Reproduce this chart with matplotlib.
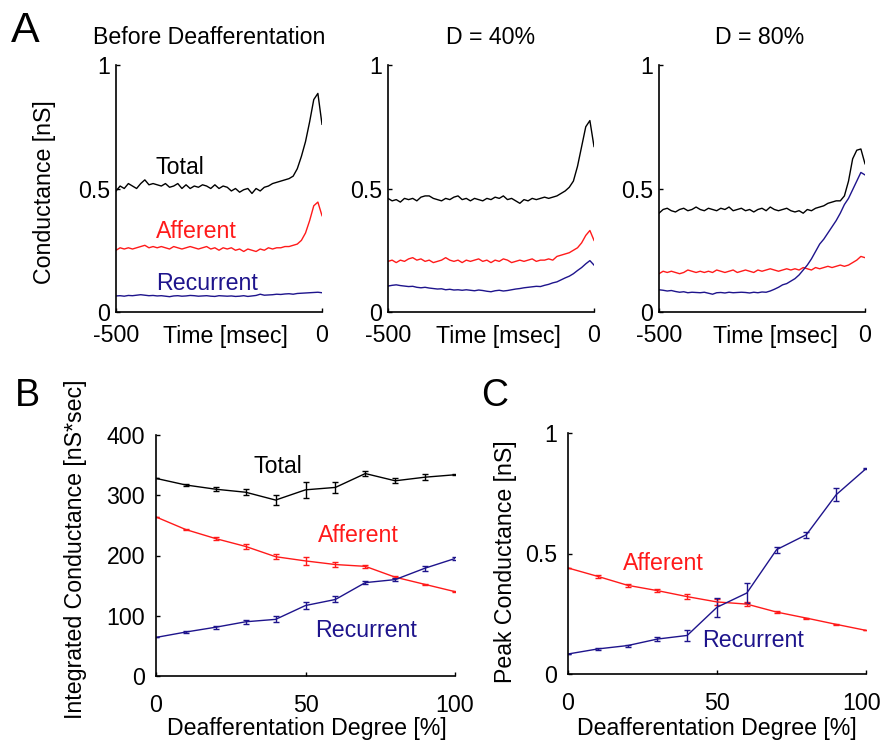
import numpy as np
import matplotlib
matplotlib.use("Agg")
import matplotlib.pyplot as plt
from matplotlib.transforms import ScaledTranslation

plt.rcParams["font.family"] = ["Liberation Sans", "DejaVu Sans"]

# -----------------------------
# Colors
# -----------------------------
BLACK = "#000000"
RED = "#ff1a1a"
BLUE = "#1e148c"

# -----------------------------
# Panel A: conductance traces (sampled every 10 ms, -500 .. 0)
# -----------------------------
time_ms = np.arange(-500, 1, 10)

before_total = [
    0.49, 0.51, 0.50, 0.52, 0.51, 0.50, 0.52, 0.535, 0.515, 0.52,
    0.515, 0.51, 0.52, 0.505, 0.51, 0.52, 0.50, 0.515, 0.50, 0.51,
    0.505, 0.515, 0.51, 0.50, 0.515, 0.50, 0.51, 0.505, 0.49, 0.50,
    0.485, 0.495, 0.50, 0.48, 0.50, 0.49, 0.505, 0.51, 0.52, 0.525,
    0.53, 0.535, 0.54, 0.55, 0.58, 0.63, 0.69, 0.77, 0.86, 0.885, 0.76,
]
before_afferent = [
    0.25, 0.26, 0.255, 0.26, 0.255, 0.26, 0.265, 0.27, 0.26, 0.265,
    0.26, 0.265, 0.26, 0.255, 0.265, 0.26, 0.255, 0.26, 0.265, 0.26,
    0.255, 0.26, 0.265, 0.255, 0.26, 0.25, 0.26, 0.255, 0.26, 0.25,
    0.255, 0.245, 0.255, 0.25, 0.245, 0.255, 0.25, 0.26, 0.255, 0.26,
    0.26, 0.265, 0.265, 0.27, 0.275, 0.29, 0.32, 0.37, 0.43, 0.445, 0.39,
]
before_recurrent = [
    0.065, 0.066, 0.064, 0.067, 0.066, 0.068, 0.07, 0.068, 0.066, 0.067,
    0.065, 0.066, 0.064, 0.062, 0.065, 0.066, 0.064, 0.065, 0.067, 0.066,
    0.064, 0.065, 0.066, 0.064, 0.063, 0.066, 0.065, 0.064, 0.065, 0.063,
    0.064, 0.066, 0.063, 0.065, 0.067, 0.072, 0.068, 0.069, 0.07, 0.072,
    0.071, 0.073, 0.074, 0.072, 0.075, 0.076, 0.077, 0.078, 0.079, 0.08, 0.078,
]

d40_total = [
    0.46, 0.45, 0.455, 0.445, 0.46, 0.455, 0.46, 0.45, 0.465, 0.47,
    0.47, 0.46, 0.455, 0.45, 0.46, 0.455, 0.465, 0.47, 0.455, 0.46,
    0.45, 0.46, 0.455, 0.45, 0.46, 0.455, 0.465, 0.46, 0.47, 0.455,
    0.46, 0.45, 0.44, 0.455, 0.45, 0.46, 0.455, 0.46, 0.465, 0.46,
    0.465, 0.47, 0.48, 0.49, 0.505, 0.53, 0.59, 0.67, 0.75, 0.775, 0.67,
]
d40_afferent = [
    0.205, 0.21, 0.20, 0.21, 0.205, 0.215, 0.22, 0.21, 0.215, 0.205,
    0.21, 0.20, 0.205, 0.21, 0.22, 0.21, 0.205, 0.21, 0.20, 0.21,
    0.205, 0.21, 0.215, 0.205, 0.21, 0.20, 0.21, 0.205, 0.215, 0.21,
    0.20, 0.205, 0.21, 0.205, 0.21, 0.215, 0.205, 0.21, 0.21, 0.215,
    0.21, 0.225, 0.23, 0.235, 0.24, 0.25, 0.26, 0.28, 0.31, 0.33, 0.29,
]
d40_recurrent = [
    0.105, 0.108, 0.11, 0.107, 0.105, 0.103, 0.104, 0.10, 0.098, 0.10,
    0.097, 0.095, 0.093, 0.094, 0.09, 0.092, 0.089, 0.09, 0.088, 0.09,
    0.088, 0.086, 0.089, 0.087, 0.084, 0.082, 0.086, 0.088, 0.085, 0.087,
    0.09, 0.093, 0.095, 0.098, 0.10, 0.102, 0.104, 0.103, 0.108, 0.112,
    0.118, 0.122, 0.13, 0.138, 0.145, 0.155, 0.168, 0.18, 0.195, 0.208, 0.19,
]

d80_total = [
    0.40, 0.415, 0.42, 0.41, 0.405, 0.415, 0.42, 0.41, 0.415, 0.425,
    0.415, 0.41, 0.42, 0.415, 0.41, 0.42, 0.415, 0.425, 0.41, 0.415,
    0.42, 0.41, 0.415, 0.405, 0.415, 0.42, 0.41, 0.425, 0.415, 0.41,
    0.415, 0.42, 0.41, 0.405, 0.41, 0.40, 0.415, 0.41, 0.42, 0.425,
    0.43, 0.44, 0.445, 0.45, 0.45, 0.47, 0.53, 0.62, 0.655, 0.66, 0.60,
]
d80_afferent = [
    0.155, 0.165, 0.16, 0.165, 0.16, 0.155, 0.16, 0.17, 0.165, 0.16,
    0.165, 0.16, 0.165, 0.16, 0.17, 0.165, 0.16, 0.165, 0.17, 0.16,
    0.165, 0.17, 0.165, 0.16, 0.17, 0.165, 0.17, 0.175, 0.17, 0.165,
    0.17, 0.175, 0.17, 0.175, 0.17, 0.18, 0.175, 0.17, 0.18, 0.175,
    0.18, 0.185, 0.18, 0.185, 0.19, 0.185, 0.19, 0.20, 0.21, 0.225, 0.22,
]
d80_recurrent = [
    0.09, 0.088, 0.085, 0.087, 0.083, 0.08, 0.082, 0.078, 0.08, 0.079,
    0.078, 0.08, 0.076, 0.072, 0.078, 0.079, 0.077, 0.08, 0.078, 0.079,
    0.08, 0.079, 0.077, 0.08, 0.078, 0.081, 0.08, 0.085, 0.092, 0.10,
    0.11, 0.115, 0.125, 0.135, 0.15, 0.17, 0.19, 0.215, 0.245, 0.275,
    0.295, 0.32, 0.345, 0.37, 0.40, 0.435, 0.46, 0.495, 0.53, 0.565, 0.555,
]

trace_titles = ["Before Deafferentation", "D = 40%", "D = 80%"]

# -----------------------------
# Panels B and C: vs deafferentation degree
# -----------------------------
degree = [0, 10, 20, 30, 40, 50, 60, 70, 80, 90, 100]

int_total = [328, 317, 310, 305, 292, 309, 313, 336, 324, 330, 334]
int_total_err = [0, 1, 3.5, 5, 9, 13, 9, 4, 4, 5.5, 0.5]
int_afferent = [264, 243, 228, 215, 198, 191, 185, 182, 164, 152, 140]
int_afferent_err = [0, 1, 2, 3.5, 4.5, 7, 3.5, 2, 2, 1.5, 0.5]
int_recurrent = [64, 73, 81, 90, 94, 117, 127, 155, 160, 179, 195]
int_recurrent_err = [0, 1, 2.5, 3.5, 5, 6, 5, 3, 2, 4, 2]

peak_afferent = [0.44, 0.405, 0.368, 0.346, 0.321, 0.299, 0.29, 0.257, 0.232, 0.206, 0.181]
peak_afferent_err = [0, 0.005, 0.005, 0.006, 0.009, 0.012, 0.007, 0.003, 0.002, 0.003, 0]
peak_recurrent = [0.083, 0.104, 0.118, 0.145, 0.16, 0.277, 0.336, 0.516, 0.578, 0.744, 0.852]
peak_recurrent_err = [0, 0.003, 0.004, 0.008, 0.022, 0.04, 0.04, 0.013, 0.012, 0.027, 0.003]

FS = 16.7


def style_axes(ax, ypad):
    ax.spines["top"].set_visible(False)
    ax.spines["right"].set_visible(False)
    ax.spines["left"].set_linewidth(1.2)
    ax.spines["bottom"].set_linewidth(1.2)
    ax.tick_params(direction="in", length=3, width=1, labelsize=FS)
    ax.tick_params(axis="y", pad=ypad)


fig = plt.figure(figsize=(8.82, 7.4), dpi=100)

# -----------------------------
# Panel A
# -----------------------------
a_lefts = [116, 388, 659]
a_traces = [
    (before_total, before_afferent, before_recurrent),
    (d40_total, d40_afferent, d40_recurrent),
    (d80_total, d80_afferent, d80_recurrent),
]
title_x = [0.454, 0.50, 0.49]
xlabel_x = [0.53, 0.534, 0.563]

for i, (left, traces) in enumerate(zip(a_lefts, a_traces)):
    ax = fig.add_axes([left / 882, (740 - 312) / 740, 206 / 882, 247 / 740])
    total, afferent, recurrent = traces
    ax.plot(time_ms, total, color=BLACK, lw=1.0)
    ax.plot(time_ms, afferent, color=RED, lw=1.0)
    ax.plot(time_ms, recurrent, color=BLUE, lw=1.0)
    ax.set_xlim(-500, 0)
    ax.set_ylim(0, 1)
    ax.set_xticks([-500, 0])
    ax.set_xticklabels(["-500", "0"])
    ax.set_yticks([0, 0.5, 1])
    ax.set_yticklabels(["0", "0.5", "1"])
    style_axes(ax, 4)
    ax.tick_params(axis="x", pad=9)
    ax.text(xlabel_x[i], -0.1255, "Time [msec]", transform=ax.transAxes,
            ha="center", va="baseline", fontsize=FS)
    ax.text(title_x[i], 1.113, trace_titles[i], transform=ax.transAxes,
            ha="center", va="center", fontsize=FS)
    if i == 0:
        ax.set_ylabel("Conductance [nS]", fontsize=FS)
        ax.yaxis.set_label_coords(-0.29, 0.486)
        ax.text(-344, 0.587, "Total", color=BLACK, ha="center", va="center", fontsize=FS)
        ax.text(-305, 0.324, "Afferent", color=RED, ha="center", va="center", fontsize=FS)
        ax.text(-280, 0.117, "Recurrent", color=BLUE, ha="center", va="center", fontsize=FS)

# -----------------------------
# Panel B
# -----------------------------
axb = fig.add_axes([156 / 882, (740 - 676) / 740, 299 / 882, 241 / 740])
err_kw = dict(lw=1.0, elinewidth=1.0, capsize=2.5, capthick=1.0)
axb.errorbar(degree, int_total, yerr=int_total_err, color=BLACK, **err_kw)
axb.errorbar(degree, int_afferent, yerr=int_afferent_err, color=RED, **err_kw)
axb.errorbar(degree, int_recurrent, yerr=int_recurrent_err, color=BLUE, **err_kw)
axb.set_xlim(0, 100)
axb.set_ylim(0, 400)
axb.set_xticks([0, 50, 100])
axb.set_yticks([0, 100, 200, 300, 400])
style_axes(axb, 8)
axb.tick_params(axis="x", pad=13)
axb.set_ylabel("Integrated Conductance [nS*sec]", fontsize=FS)
axb.yaxis.set_label_coords(-0.23, 0.527)
axb.text(0.505, -0.245, "Deafferentation Degree [%]", transform=axb.transAxes,
         ha="center", va="baseline", fontsize=FS)
axb.text(40.8, 347, "Total", color=BLACK, ha="center", va="center", fontsize=FS)
axb.text(67.6, 234, "Afferent", color=RED, ha="center", va="center", fontsize=FS)
axb.text(70.2, 76, "Recurrent", color=BLUE, ha="center", va="center", fontsize=FS)

# -----------------------------
# Panel C
# -----------------------------
axc = fig.add_axes([568 / 882, (740 - 674) / 740, 298 / 882, 241 / 740])
axc.errorbar(degree, peak_afferent, yerr=peak_afferent_err, color=RED, **err_kw)
axc.errorbar(degree, peak_recurrent, yerr=peak_recurrent_err, color=BLUE, **err_kw)
axc.set_xlim(0, 100)
axc.set_ylim(0, 1)
axc.set_xticks([0, 50, 100])
axc.set_yticks([0, 0.5, 1])
axc.set_yticklabels(["0", "0.5", "1"])
style_axes(axc, 8)
axc.tick_params(axis="x", pad=13)
# keep the right-most tick label inside the figure
last_label = axc.get_xticklabels()[-1]
last_label.set_transform(last_label.get_transform()
                         + ScaledTranslation(-4 / 100, 0, fig.dpi_scale_trans))
axc.set_ylabel("Peak Conductance [nS]", fontsize=FS)
axc.yaxis.set_label_coords(-0.17, 0.465)
axc.text(0.5, -0.253, "Deafferentation Degree [%]", transform=axc.transAxes,
         ha="center", va="baseline", fontsize=FS)
axc.text(31.9, 0.46, "Afferent", color=RED, ha="center", va="center", fontsize=FS)
axc.text(62.1, 0.137, "Recurrent", color=BLUE, ha="center", va="center", fontsize=FS)

# -----------------------------
# Panel letters
# -----------------------------
fig.text(25 / 882, 1 - 31 / 740, "A", fontsize=31, ha="center", va="center")
fig.text(27 / 882, 1 - 396 / 740, "B", fontsize=27, ha="center", va="center")
fig.text(495 / 882, 1 - 396 / 740, "C", fontsize=27, ha="center", va="center")

fig.savefig("out.png", dpi=100)
